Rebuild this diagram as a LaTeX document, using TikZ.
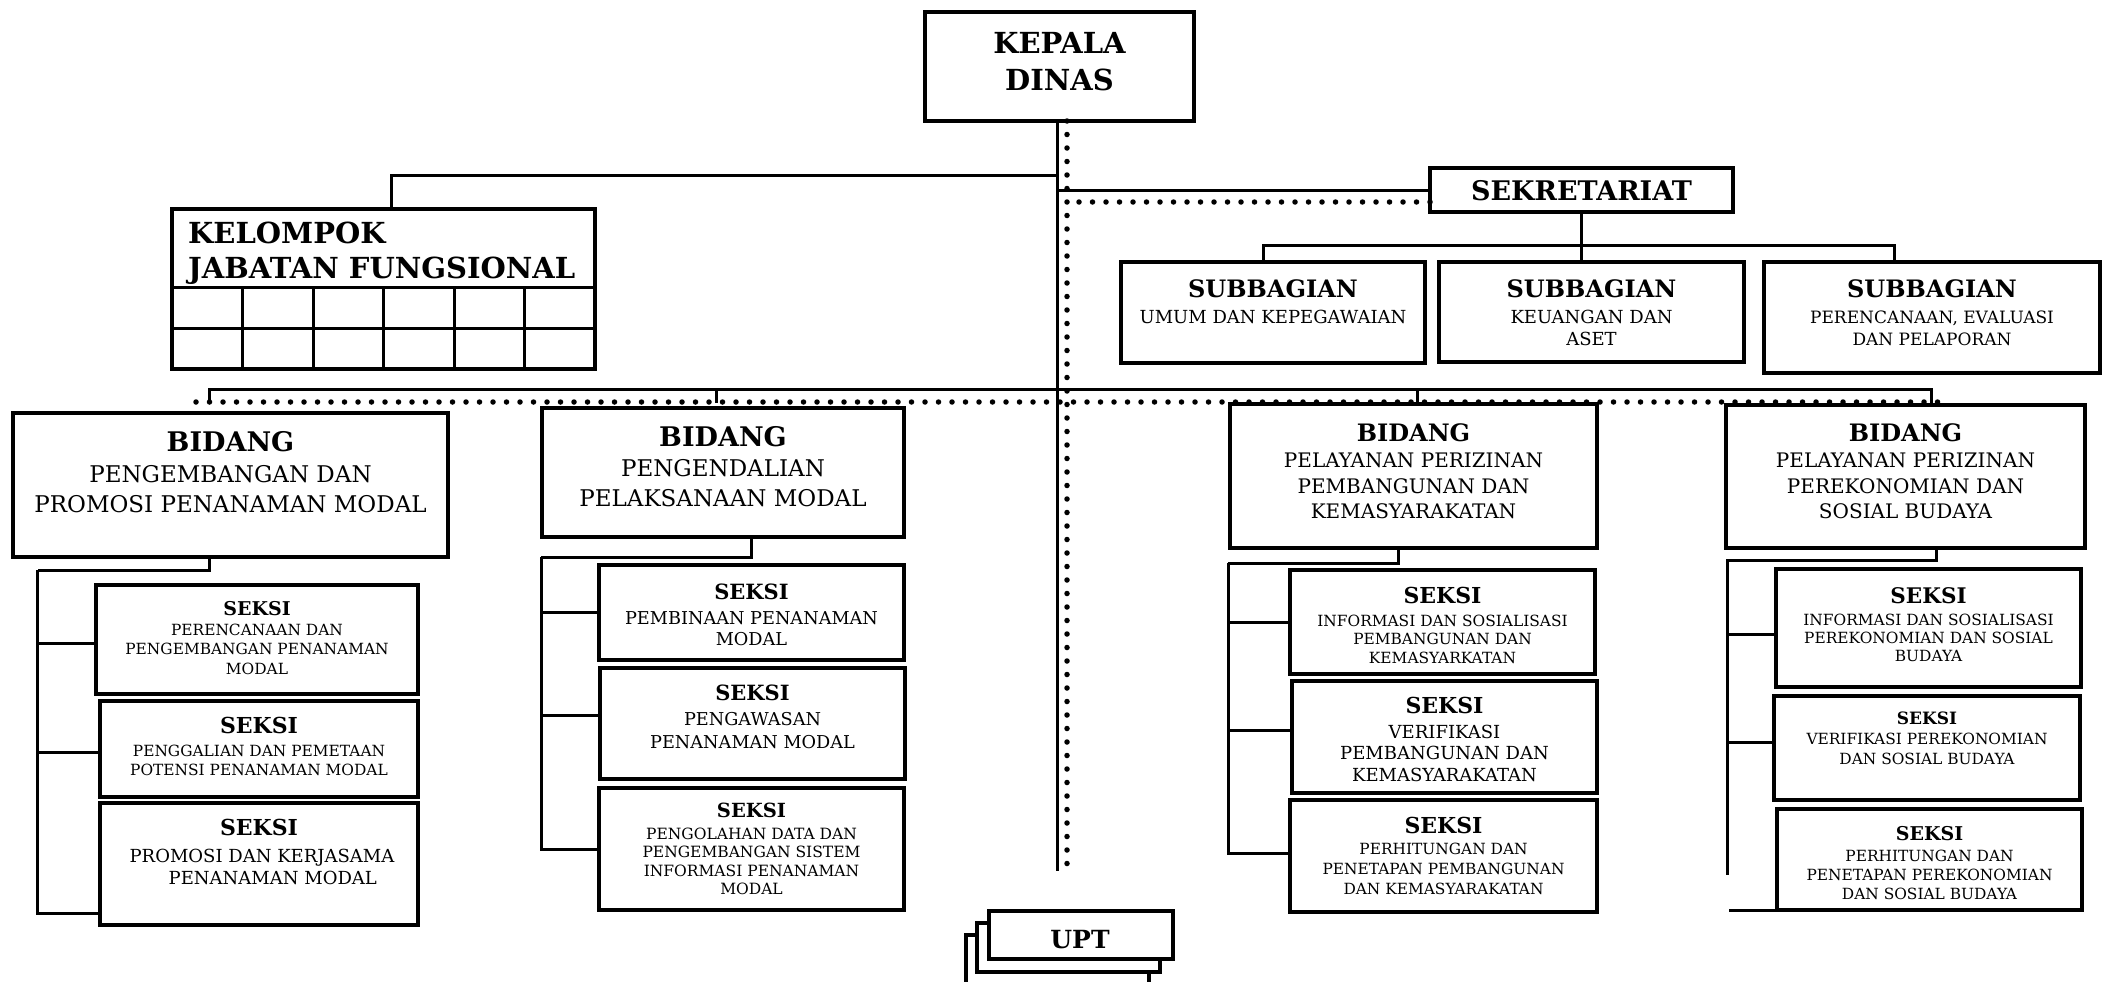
\documentclass[tikz,border=0pt]{standalone}
\usepackage{fontspec}
\setmainfont{DejaVu Serif}
\tikzset{
  box/.style={draw, line width=3.2pt, fill=white, inner sep=0pt, outer sep=0pt, anchor=north west},
  conn/.style={line width=3pt},
  dots/.style={line width=5.5pt, line cap=round, dash pattern=on 0pt off 13.5pt},
}
% box: name, x1, y1, x2, y2 (pixels, y downward)
\newcommand\bx[5]{\node[box, minimum width={(#4)-(#2)}, minimum height={(#5)-(#3)}] (#1) at (#2,-#3) {};}
% text: name, x, first baseline, size, skip, font, text
\newcommand\tl[7]{\node[anchor=north, align=center, inner sep=0pt, font={#6\fontsize{#4}{#5}\selectfont}] (#1) at ({#2},{-(#3)+0.729*(#4)}) {#7};}
\begin{document}
\begin{tikzpicture}[x=1pt,y=1pt]
\useasboundingbox (0,0) rectangle (2106,-982);
\fill[white] (0,0) rectangle (2106,-982);

% ---------- boxes ----------
\bx{kep}{925}{12}{1194}{121}
\tl{kept}{1059.5}{53}{29}{37}{\bfseries}{KEPALA\\DINAS}

\bx{kel}{172}{209}{595}{369}
\node[anchor=north west, align=left, inner sep=0pt, font={\bfseries\fontsize{29}{35}\selectfont}] (kelt) at (188,{-243+0.729*29}) {KELOMPOK\\JABATAN FUNGSIONAL};

\bx{sek}{1430}{168}{1733}{212}
\tl{sekt}{1581.5}{200}{27}{30}{\bfseries}{SEKRETARIAT}

\bx{sb1}{1121}{262}{1425}{363}
\tl{sb1h}{1273}{297}{24}{28}{\bfseries}{SUBBAGIAN}
\tl{sb1t}{1273}{323}{18}{22}{}{UMUM DAN KEPEGAWAIAN}
\bx{sb2}{1439}{262}{1744}{362}
\tl{sb2h}{1591.5}{297}{24}{28}{\bfseries}{SUBBAGIAN}
\tl{sb2t}{1591.5}{323}{18}{22}{}{KEUANGAN DAN\\ASET}
\bx{sb3}{1764}{262}{2100}{373}
\tl{sb3h}{1932}{297}{24}{28}{\bfseries}{SUBBAGIAN}
\tl{sb3t}{1932}{323}{17}{22}{}{PERENCANAAN, EVALUASI\\DAN PELAPORAN}

\bx{b1}{13}{413}{448}{557}
\tl{b1h}{230.5}{451}{27}{30}{\bfseries}{BIDANG}
\tl{b1t}{230.5}{482}{23}{29.5}{}{PENGEMBANGAN DAN\\PROMOSI PENANAMAN MODAL}
\bx{b2}{542}{408}{904}{537}
\tl{b2h}{723}{446}{27}{30}{\bfseries}{BIDANG}
\tl{b2t}{723}{476}{23}{30}{}{PENGENDALIAN\\PELAKSANAAN MODAL}
\bx{b3}{1230}{404}{1597}{548}
\tl{b3h}{1413.5}{441}{24}{26}{\bfseries}{BIDANG}
\tl{b3t}{1413.5}{467.5}{20}{25.3}{}{PELAYANAN PERIZINAN\\PEMBANGUNAN DAN\\KEMASYARAKATAN}
\bx{b4}{1726}{405}{2085}{548}
\tl{b4h}{1905.5}{441}{24}{26}{\bfseries}{BIDANG}
\tl{b4t}{1905.5}{467.5}{20}{25.3}{}{PELAYANAN PERIZINAN\\PEREKONOMIAN DAN\\SOSIAL BUDAYA}

\bx{s1a}{96}{585}{418}{694}
\tl{s1ah}{257}{615}{19}{20}{\bfseries}{SEKSI}
\tl{s1at}{257}{635}{15.4}{19.5}{}{PERENCANAAN DAN\\PENGEMBANGAN PENANAMAN\\MODAL}
\bx{s1b}{100}{701}{418}{797}
\tl{s1bh}{259}{733}{22}{22}{\bfseries}{SEKSI}
\tl{s1bt}{259}{756}{15.4}{19}{}{PENGGALIAN DAN PEMETAAN\\POTENSI PENANAMAN MODAL}
\bx{s1c}{100}{803}{418}{925}
\tl{s1ch}{259}{835}{22}{22}{\bfseries}{SEKSI}
\tl{s1ct}{262}{862}{18}{22}{}{PROMOSI DAN KERJASAMA\\\hspace*{1.2em}PENANAMAN MODAL}

\bx{s2a}{599}{565}{904}{660}
\tl{s2ah}{751.5}{599}{21}{22}{\bfseries}{SEKSI}
\tl{s2at}{751.5}{624}{17.7}{21}{}{PEMBINAAN PENANAMAN\\MODAL}
\bx{s2b}{600}{668}{905}{779}
\tl{s2bh}{752.5}{700.5}{21}{22}{\bfseries}{SEKSI}
\tl{s2bt}{752.5}{725.5}{17.7}{22.5}{}{PENGAWASAN\\PENANAMAN MODAL}
\bx{s2c}{599}{788}{904}{910}
\tl{s2ch}{751.5}{817.5}{19.5}{20}{\bfseries}{SEKSI}
\tl{s2ct}{751.5}{838.7}{15.5}{18.5}{}{PENGOLAHAN DATA DAN\\PENGEMBANGAN SISTEM\\INFORMASI PENANAMAN\\MODAL}

\bx{s3a}{1290}{570}{1595}{674}
\tl{s3ah}{1442.5}{603}{22}{22}{\bfseries}{SEKSI}
\tl{s3at}{1442.5}{625.7}{15.4}{18.7}{}{INFORMASI DAN SOSIALISASI\\PEMBANGUNAN DAN\\KEMASYARKATAN}
\bx{s3b}{1292}{681}{1597}{793}
\tl{s3bh}{1444.5}{713}{22}{22}{\bfseries}{SEKSI}
\tl{s3bt}{1444.5}{738}{18}{21.5}{}{VERIFIKASI\\PEMBANGUNAN DAN\\KEMASYARAKATAN}
\bx{s3c}{1290}{800}{1597}{912}
\tl{s3ch}{1443.5}{833}{22}{22}{\bfseries}{SEKSI}
\tl{s3ct}{1443.5}{854}{15.4}{19.8}{}{PERHITUNGAN DAN\\PENETAPAN PEMBANGUNAN\\DAN KEMASYARAKATAN}

\bx{s4a}{1776}{569}{2081}{687}
\tl{s4ah}{1928.5}{603}{21.5}{22}{\bfseries}{SEKSI}
\tl{s4at}{1928.5}{625}{15.4}{18}{}{INFORMASI DAN SOSIALISASI\\PEREKONOMIAN DAN SOSIAL\\BUDAYA}
\bx{s4b}{1774}{696}{2080}{800}
\tl{s4bh}{1927}{723.6}{17}{20}{\bfseries}{SEKSI}
\tl{s4bt}{1927}{744}{15.4}{20}{}{VERIFIKASI PEREKONOMIAN\\DAN SOSIAL BUDAYA}
\bx{s4c}{1777}{809}{2082}{910}
\tl{s4ch}{1929.5}{840}{19}{20}{\bfseries}{SEKSI}
\tl{s4ct}{1929.5}{860.6}{15.4}{19}{}{PERHITUNGAN DAN\\PENETAPAN PEREKONOMIAN\\DAN SOSIAL BUDAYA}

\bx{upt3}{966}{935}{1149}{1000}
\bx{upt2}{977}{923}{1160}{972}
\bx{upt}{989}{911}{1173}{959}
\tl{uptt}{1080}{948}{25}{25}{\bfseries}{UPT}

% ---------- kelompok grid ----------
\draw[conn] ([yshift=-78pt]kel.north west) -- ([yshift=-78pt]kel.north east);
\draw[conn] ([yshift=-119pt]kel.north west) -- ([yshift=-119pt]kel.north east);
\foreach \i in {1,...,5}
  \draw[conn] ([xshift=\i*70.5pt, yshift=-78pt]kel.north west) -- ([xshift=\i*70.5pt]kel.south west);

% ---------- central lines ----------
\coordinate (cs) at ([xshift=-2.5pt]kep.south);
\coordinate (cd) at ([xshift=7.5pt]kep.south);
\coordinate (cse) at (1057,-871);
\coordinate (cde) at (1067,-868);
\draw[conn] (cs) -- (cse);
\draw[dots] (cd) -- (cde);

% kelompok
\coordinate (jk) at (1057,-175);
\draw[conn] (jk) -| ([xshift=7.5pt]kel.north);

% sekretariat
\draw[conn] (sek.west) -- (sek.west -| cs);
\draw[dots] ([yshift=-12pt]sek.west) -- ([yshift=-12pt]sek.west -| cd);
\draw[conn] (sek.south) -- (sek.south |- sb2.north);
\draw[conn] ([xshift=-10pt]sb1.north) -- ++(0,17) -| ([xshift=-38pt]sb3.north);

% bidang bus
\coordinate (bus) at (0,-389);
\coordinate (t1) at (209,-403);
\coordinate (t2) at (716,-403);
\coordinate (t3) at (1417,-403);
\coordinate (t4) at (1931,-403);
\draw[conn] (t1) |- (bus -| t4) -- (t4);
\draw[conn] (t2) -- (t2 |- bus);
\draw[conn] (t3) -- (t3 |- bus);
\coordinate (dl) at (196,-402);
\coordinate (dr) at (1942,-402);
\draw[dots] (dl) -- (dr);

% column 1
\coordinate (v1) at (37.5,-570);
\draw[conn] ([xshift=-21.5pt]b1.south) |- (v1);
\draw[conn] ([yshift=12pt]s1c.south west) -| (v1);
\draw[conn] ([yshift=-3.5pt]s1a.west) -| (v1);
\draw[conn] ([yshift=-3pt]s1b.west) -| (v1);

% column 2
\coordinate (v2) at (541,-557);
\draw[conn] ([xshift=28pt]b2.south) |- (v2);
\draw[conn] (s2c.west) -| (v2);
\draw[conn] (s2a.west) -| (v2);
\draw[conn] ([yshift=8.5pt]s2b.west) -| (v2);

% column 3
\coordinate (v3) at (1228,-563);
\draw[conn] ([xshift=-15.5pt]b3.south) |- (v3);
\draw[conn] ([yshift=3pt]s3c.west) -| (v3);
\draw[conn] (s3a.west) -| (v3);
\draw[conn] ([yshift=7pt]s3b.west) -| (v3);

% column 4
\coordinate (v4) at (1727,-560);
\coordinate (v4b) at (1727,-875);
\draw[conn] ([xshift=30.5pt]b4.south) |- (v4) -- (v4b);
\draw[conn] ([yshift=-6pt]s4a.west) -| (v4);
\draw[conn] ([yshift=6pt]s4b.west) -| (v4);
\draw[conn] (s4c.south west) -- ++(-48,0);
\end{tikzpicture}
\end{document}
